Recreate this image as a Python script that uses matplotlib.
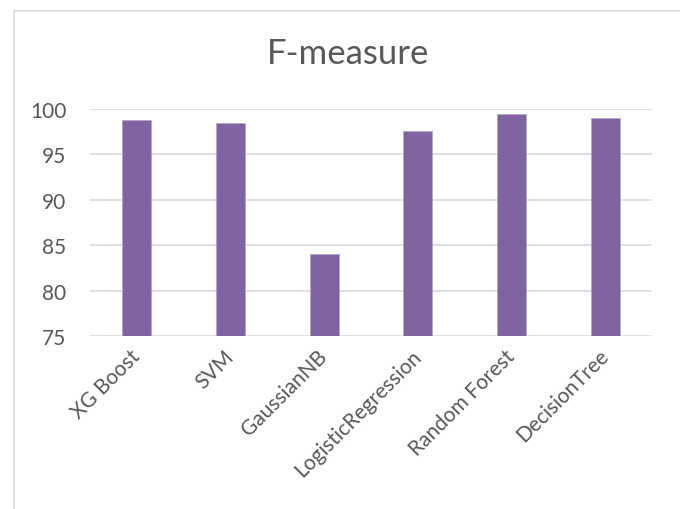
import matplotlib.pyplot as plt
from matplotlib.patches import Rectangle

models = ["XG Boost", "SVM", "GaussianNB", "LogisticRegression", "Random Forest", "DecisionTree"]
f_measure = [98.8, 98.5, 84.0, 97.6, 99.4, 99.0]
y_ticks = [75, 80, 85, 90, 95, 100]

plt.rcParams['font.family'] = ['Lato', 'DejaVu Sans']
text_grey = "#595959"

fig = plt.figure(figsize=(6.8, 5.1), dpi=100)
# chart frame, only its top and left edges fall inside the image
fig.patches.append(Rectangle((13.5 / 680, -0.1), 1.2, 1 - 11.5 / 510 + 0.1,
                             transform=fig.transFigure, fill=False,
                             edgecolor="#d9d9d9", linewidth=1.2))

ax = fig.add_axes([90 / 680, 1 - 337 / 510, 562 / 680, 227 / 510])
x = range(len(models))
ax.bar(x, f_measure, width=0.31, color="#8064A2", edgecolor="#b4a4cb", linewidth=0.6, zorder=3)

ax.set_ylim(75, 100)
ax.set_xlim(-0.5, len(models) - 0.5)
ax.set_yticks(y_ticks)
ax.set_yticklabels([str(t) for t in y_ticks], fontsize=15, color=text_grey)
ax.set_xticks(list(x))
ax.set_xticklabels(models, rotation=45, ha="right", va="center", rotation_mode="anchor",
                   fontsize=15, color=text_grey)
ax.tick_params(axis="y", length=0, pad=17)
ax.tick_params(axis="x", length=0, pad=12)

ax.grid(axis="y", color="#d9d9d9", linewidth=1.2, zorder=0)
for s in ax.spines.values():
    s.set_visible(False)

fig.text(348 / 680, 1 - 54 / 510, "F-measure", ha="center", va="center",
         fontsize=25, color=text_grey)

fig.savefig("out.png", dpi=100)
